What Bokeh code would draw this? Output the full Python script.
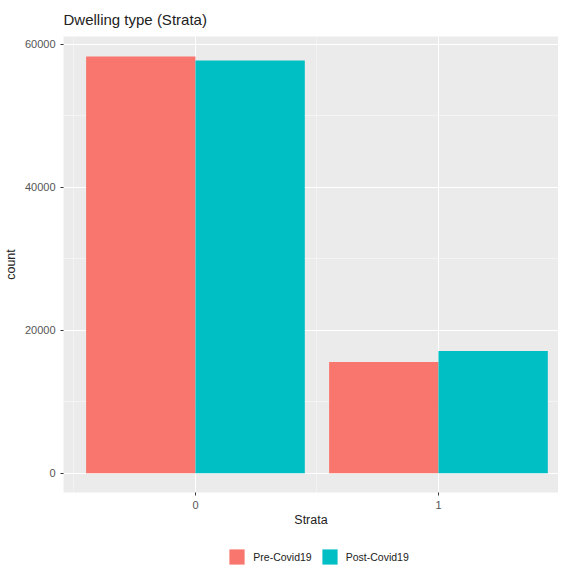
from bokeh.plotting import figure
from bokeh.layouts import column
from bokeh.models import ColumnDataSource, FixedTicker, Legend, LegendItem, Range1d
from bokeh.transform import dodge
from bokeh.embed import file_html
from bokeh.resources import INLINE

strata = [0, 1]
strata_labels = ["0", "1"]
pre_covid = [58300, 15550]
post_covid = [57750, 17100]
y_ticks = [0, 20000, 40000, 60000]
y_minor = [10000, 30000, 50000]
series_names = ["Pre-Covid19", "Post-Covid19"]
series_colors = ["#F8766D", "#00BFC4"]

src = ColumnDataSource(dict(x=strata, pre=pre_covid, post=post_covid))

FONT = "Liberation Sans"

p = figure(frame_width=495, frame_height=456, output_backend="svg", toolbar_location=None,
           x_range=Range1d(-0.543, 1.494), y_range=Range1d(-2700, 61100),
           title="Dwelling type (Strata)")
p.min_border_left = 55
p.min_border_right = 0
p.min_border_top = 0
p.min_border_bottom = 44
p.background_fill_color = "#EBEBEB"
p.border_fill_color = "white"
p.outline_line_color = None

p.title.text_font = FONT
p.title.text_font_size = "15px"
p.title.text_font_style = "normal"
p.title.text_color = "#222222"
p.title.align = "left"
p.title.offset = 0
p.title.standoff = 17

r_pre = p.vbar(x=dodge("x", -0.225, range=p.x_range), top="pre", width=0.45,
               source=src, fill_color=series_colors[0], line_color=None)
r_post = p.vbar(x=dodge("x", 0.225, range=p.x_range), top="post", width=0.45,
                source=src, fill_color=series_colors[1], line_color=None)

# axes
p.xaxis.ticker = FixedTicker(ticks=strata, minor_ticks=[-0.5, 0.5, 1.5])
p.xaxis.major_label_overrides = {i: s for i, s in zip(strata, strata_labels)}
p.yaxis.ticker = FixedTicker(ticks=y_ticks, minor_ticks=y_minor)
p.yaxis.formatter.use_scientific = False
for ax in (p.xaxis[0], p.yaxis[0]):
    ax.axis_line_color = None
    ax.major_tick_line_color = "#333333"
    ax.major_tick_out = 3
    ax.major_tick_in = 0
    ax.minor_tick_line_color = None
    ax.major_label_text_font = FONT
    ax.major_label_text_font_size = "11px"
    ax.major_label_text_color = "#555555"
    ax.axis_label_text_font = FONT
    ax.axis_label_text_font_size = "12.5px"
    ax.axis_label_text_font_style = "normal"
    ax.axis_label_text_color = "#222222"
    ax.major_label_standoff = 4
p.xaxis.axis_label = "Strata"
p.yaxis.axis_label = "count"
p.xaxis.axis_label_standoff = 1
p.yaxis.axis_label_standoff = 4

# grid
p.xgrid.grid_line_color = "white"
p.xgrid.grid_line_width = 1.1
p.xgrid.minor_grid_line_color = "#F4F4F4"
p.xgrid.minor_grid_line_width = 0.8
p.ygrid.grid_line_color = "white"
p.ygrid.grid_line_width = 1.1
p.ygrid.minor_grid_line_color = "#F6F6F6"
p.ygrid.minor_grid_line_width = 0.8

# legend strip below the plot
pl = figure(frame_width=495, frame_height=19, output_backend="svg", toolbar_location=None,
            x_axis_location=None, y_axis_location=None,
            x_range=Range1d(-0.543, 1.494), y_range=Range1d(0, 1))
pl.min_border_left = 55
pl.min_border_right = 0
pl.min_border_top = 11
pl.min_border_bottom = 0
pl.outline_line_color = None
pl.background_fill_color = "white"
pl.border_fill_color = "white"
pl.grid.visible = False
l_pre = pl.vbar(x="x", top="pre", width=0.45, source=src,
                fill_color=series_colors[0], line_color=None, visible=False)
l_post = pl.vbar(x="x", top="post", width=0.45, source=src,
                 fill_color=series_colors[1], line_color=None, visible=False)

legend = Legend(items=[LegendItem(label=series_names[0], renderers=[l_pre]),
                       LegendItem(label=series_names[1], renderers=[l_post])],
                orientation="horizontal", location=(209, 0))
legend.padding = 0
legend.margin = 0
legend.border_line_color = None
legend.background_fill_alpha = 0
legend.glyph_width = 19
legend.glyph_height = 19
legend.label_standoff = 7
legend.spacing = 8
legend.label_text_font = FONT
legend.label_text_font_size = "10.5px"
legend.label_text_color = "#222222"
legend.label_height = 19
pl.add_layout(legend, "center")

layout = column(p, pl, spacing=0)
open("out.html", "w").write(file_html(layout, INLINE))
